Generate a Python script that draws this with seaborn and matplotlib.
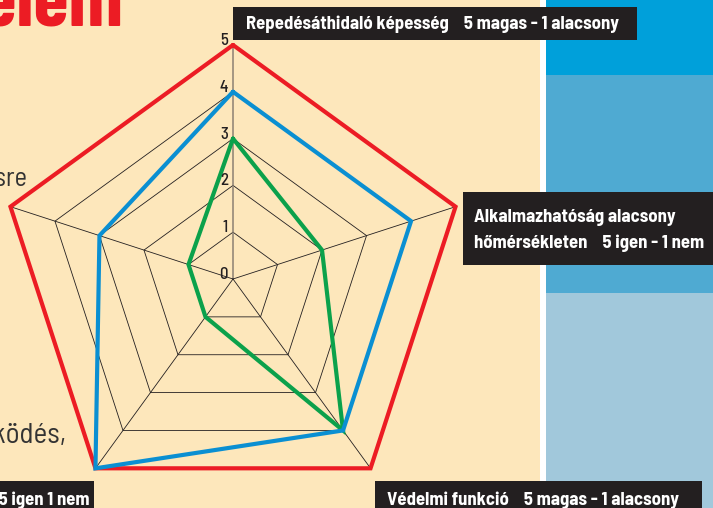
import numpy as np
import pandas as pd
import seaborn as sns
import matplotlib.pyplot as plt
from matplotlib.patches import Rectangle

# adatok
categories = ["Repedésáthidaló képesség", "Alkalmazhatóság alacsony hőmérsékleten",
              "Védelmi funkció", "Vízzárás", "Felhasználás"]
red_vals = [5, 5, 5, 5, 5]
blue_vals = [4, 4, 4, 5, 3]
green_vals = [3, 2, 4, 1, 1]
ring_levels = [0, 1, 2, 3, 4, 5]
series_names = ["A", "C", "B"]  # rajzolási sorrend: piros, zöld, kék

label_top = "Repedésáthidaló képesség    5 magas - 1 alacsony"
label_right_1 = "Alkalmazhatóság alacsony"
label_right_2 = "hőmérsékleten    5 igen - 1 nem"
label_bottom_right = "Védelmi funkció    5 magas - 1 alacsony"
label_bottom_left = "Vízzárás    5 igen 1 nem"

sns.set_theme(style="white")
plt.rcParams['font.family'] = ['Barlow Semi Condensed', 'DejaVu Sans']
TITLE_FONT = ['Barlow Condensed', 'DejaVu Sans']

CREAM = "#FDE7BB"
RED = "#EC1C24"
BLUE = "#0A8FD2"
GREEN = "#0BA14B"
BOX = "#231F20"
LBL = 13.5

W, H = 713, 508
fig = plt.figure(figsize=(W / 100, H / 100), dpi=100)

# háttér (pixel koordináták)
bg = fig.add_axes([0, 0, 1, 1])
bg.set_xlim(0, W)
bg.set_ylim(H, 0)
bg.set_axis_off()
bg.add_patch(Rectangle((0, 0), 540, H, color=CREAM, lw=0))
bg.add_patch(Rectangle((540, 0), 6, H, color="white", lw=0))
bg.add_patch(Rectangle((546, 0), W - 546, 75, color="#00A0DA", lw=0))
bg.add_patch(Rectangle((546, 75), W - 546, 218, color="#4FAAD2", lw=0))
bg.add_patch(Rectangle((546, 293), W - 546, H - 293, color="#A1C8DB", lw=0))

# címkék fekete dobozban
bg.add_patch(Rectangle((233, 7), 404, 33, color=BOX, lw=0))
bg.text(246, 29, label_top, color="white", fontsize=LBL, fontweight="bold", va="baseline")
bg.add_patch(Rectangle((463, 192), W - 463, 73, color=BOX, lw=0))
bg.text(474, 222, label_right_1, color="white", fontsize=LBL, fontweight="bold", va="baseline")
bg.text(474, 248, label_right_2, color="white", fontsize=LBL, fontweight="bold", va="baseline")
bg.add_patch(Rectangle((375, 481), 327, 30, color=BOX, lw=0))
bg.text(387, 505, label_bottom_right, color="white", fontsize=LBL, fontweight="bold", va="baseline")
bg.add_patch(Rectangle((-10, 481), 104, 30, color=BOX, lw=0))
bg.text(90, 505, label_bottom_left, color="white", fontsize=LBL, fontweight="bold",
        va="baseline", ha="right")

# körítő szöveg
bg.text(123, 25, "Rendszerelem", color=RED, fontsize=58, fontweight="bold",
        va="baseline", ha="right", family=TITLE_FONT)
bg.text(28, 186, "szigetelésre", color="#333333", fontsize=19, va="baseline", ha="right")
bg.text(66, 443, "működés,", color="#333333", fontsize=21, va="baseline", ha="right")

# radar
R5 = 234.0
rmax = 5.3
rpx = R5 * rmax / 5
cx, cy = 233, H - 279
ax = fig.add_axes([(cx - rpx) / W, (cy - rpx) / H, 2 * rpx / W, 2 * rpx / H], projection="polar")
ax.set_theta_offset(np.pi / 2)
ax.set_theta_direction(-1)
ax.patch.set_alpha(0)

n = len(categories)
theta = np.linspace(0, 2 * np.pi, n, endpoint=False)
theta_closed = np.append(theta, 2 * np.pi)

for lvl in ring_levels[1:]:
    ax.plot(theta_closed, [lvl] * (n + 1), color=BOX, lw=0.6, zorder=1)
for i, t in enumerate(theta):
    if i == 0:
        ax.plot([t, t], [0, 5], color="#8C8172", lw=1.1, zorder=1)
    else:
        ax.plot([t, t], [0, 5], color=BOX, lw=0.6, zorder=1)

rows = []
for name, vals in zip(["A", "B", "C"], [red_vals, blue_vals, green_vals]):
    for t, v in zip(theta_closed, vals + vals[:1]):
        rows.append({"series": name, "theta": t, "value": v})
df = pd.DataFrame(rows)

sns.lineplot(data=df, x="theta", y="value", hue="series", hue_order=series_names,
             palette={"A": RED, "B": BLUE, "C": GREEN}, sort=False, estimator=None,
             linewidth=3, legend=False, ax=ax, solid_joinstyle="miter", zorder=3)

for lvl in ring_levels:
    ax.annotate(str(lvl), xy=(0, lvl), xytext=(-3.6, 0), textcoords="offset points",
                ha="right", va="baseline", fontsize=12, fontweight="medium",
                color="#231F20", zorder=4)

ax.set_ylim(0, rmax)
ax.set_xlabel("")
ax.set_ylabel("")
ax.set_axis_off()

fig.savefig("out.png", dpi=100)
